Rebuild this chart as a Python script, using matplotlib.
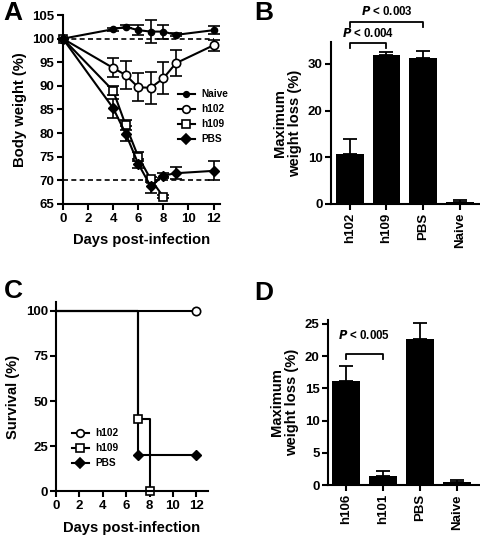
import matplotlib
matplotlib.use('Agg')
import matplotlib.pyplot as plt
from matplotlib.lines import Line2D

plt.rcParams['font.family'] = ['Liberation Sans', 'DejaVu Sans']
plt.rcParams['font.weight'] = 'bold'
plt.rcParams['axes.labelweight'] = 'bold'
plt.rcParams['axes.linewidth'] = 1.5
plt.rcParams['xtick.major.width'] = 1.5
plt.rcParams['ytick.major.width'] = 1.5
plt.rcParams['xtick.major.size'] = 4
plt.rcParams['ytick.major.size'] = 4
plt.rcParams['xtick.labelsize'] = 9.5
plt.rcParams['ytick.labelsize'] = 9.5
plt.rcParams['xtick.major.pad'] = 2.5
plt.rcParams['ytick.major.pad'] = 2

# panel A: body weight over time
naive_days = [0, 4, 5, 6, 7, 8, 9, 12]
naive_wt = [100, 102, 102.5, 101.8, 101.5, 101.5, 100.8, 101.8]
naive_err = [0, 0.3, 0.3, 1.0, 2.5, 1.5, 0.3, 0.8]

h102_days = [0, 4, 5, 6, 7, 8, 9, 12]
h102_wt = [100, 93.8, 92.3, 89.7, 89.6, 91.6, 94.8, 98.6]
h102_err = [0, 2.0, 3.0, 3.0, 3.4, 3.4, 2.8, 1.2]

h109_days = [0, 4, 5, 6, 7, 8]
h109_wt = [100, 89.0, 81.7, 75.0, 70.2, 66.5]
h109_err = [0, 1.0, 1.0, 1.0, 0.5, 0.3]

pbs_days = [0, 4, 5, 6, 7, 8, 9, 12]
pbs_wt = [100, 85.3, 79.9, 73.5, 68.7, 71.0, 71.5, 72.0]
pbs_err = [0, 2.0, 1.5, 1.0, 1.3, 0.5, 1.3, 2.0]

# panel B: maximum weight loss
b_groups = ['h102', 'h109', 'PBS', 'Naive']
b_vals = [10.7, 31.9, 31.3, 0.5]
b_err = [3.2, 0.6, 1.4, 0.4]

# panel C: survival
surv_h102_x = [0, 12]
surv_h102_y = [100, 100]
surv_h109_x = [0, 7, 8]
surv_h109_y = [100, 40, 0]
surv_pbs_x = [0, 7, 12]
surv_pbs_y = [100, 20, 20]

# panel D: maximum weight loss
d_groups = ['h106', 'h101', 'PBS', 'Naive']
d_vals = [16.2, 1.4, 22.6, 0.4]
d_err = [2.3, 0.7, 2.6, 0.3]

LAB = 10.6
LEG = 7.3
PTXT = 8.3

fig = plt.figure(figsize=(4.8, 5.38), dpi=100)


def clean(ax):
    ax.spines['top'].set_visible(False)
    ax.spines['right'].set_visible(False)


def handles(specs):
    return [Line2D([], [], color='k', lw=1.5, marker=m, ms=s, mfc=fc, mec='k', mew=1.2, label=l)
            for l, m, s, fc in specs]


# ---- A ----
axA = fig.add_axes([0.131, 0.621, 0.327, 0.351])
clean(axA)
axA.plot([0, 12], [100, 100], 'k--', lw=1.2, dashes=(3, 2))
axA.plot([0, 12], [70, 70], 'k--', lw=1.2, dashes=(3, 2))
ekw = dict(color='k', lw=1.5, capsize=4, elinewidth=1.2, capthick=1.2, clip_on=False)
axA.errorbar(naive_days, naive_wt, yerr=naive_err, marker='o', ms=4.5, mfc='k', mec='k', **ekw)
axA.errorbar(h102_days, h102_wt, yerr=h102_err, marker='o', ms=6, mfc='white', mec='k', mew=1.2, **ekw)
axA.errorbar(h109_days, h109_wt, yerr=h109_err, marker='s', ms=6, mfc='white', mec='k', mew=1.2, **ekw)
axA.errorbar(pbs_days, pbs_wt, yerr=pbs_err, marker='D', ms=5, mfc='k', mec='k', **ekw)
axA.set_xlim(0, 12.5)
axA.set_ylim(65, 105)
axA.set_xticks(range(0, 13, 2))
axA.set_yticks(range(65, 106, 5))
axA.set_xlabel('Days post-infection', fontsize=LAB, labelpad=6)
axA.set_ylabel('Body weight (%)', fontsize=LAB)
axA.legend(handles=handles([('Naive', 'o', 4, 'k'), ('h102', 'o', 5.5, 'white'),
                            ('h109', 's', 5.5, 'white'), ('PBS', 'D', 5, 'k')]),
           loc='upper left', bbox_to_anchor=(0.70, 0.635), frameon=False, fontsize=LEG,
           handlelength=1.7, labelspacing=0.5, handletextpad=0.6, borderpad=0)

# ---- B ----
axB = fig.add_axes([0.689, 0.621, 0.311, 0.301])
clean(axB)
bx = range(len(b_groups))
axB.bar(bx, b_vals, width=0.75, color='k')
axB.errorbar(bx, b_vals, yerr=[[0] * 4, b_err], fmt='none', ecolor='k', capsize=5, elinewidth=1.3, capthick=1.3)
axB.set_xlim(-0.52, 3.55)
axB.set_ylim(0, 34.7)
axB.set_yticks([0, 10, 20, 30])
axB.set_xticks(list(bx))
axB.set_xticklabels(b_groups, rotation=90)
axB.set_ylabel('Maximum\nweight loss (%)', fontsize=LAB, linespacing=1.1)
axB.plot([0, 0, 1, 1], [33.5, 34.5, 34.5, 33.5], 'k-', lw=1.3, clip_on=False)
axB.text(0.5, 35.2, r'$\bfit{P}$ < 0.004', ha='center', va='bottom', fontsize=PTXT)
axB.plot([0, 0, 2, 2], [38.0, 39.0, 39.0, 38.0], 'k-', lw=1.3, clip_on=False)
axB.text(1.0, 39.8, r'$\bfit{P}$ < 0.003', ha='center', va='bottom', fontsize=PTXT)

# ---- C ----
axC = fig.add_axes([0.117, 0.087, 0.316, 0.352])
clean(axC)
axC.step(surv_h102_x, surv_h102_y, where='post', color='k', lw=1.5, clip_on=False)
axC.step(surv_h109_x, surv_h109_y, where='post', color='k', lw=1.5, clip_on=False)
axC.step(surv_pbs_x, surv_pbs_y, where='post', color='k', lw=1.5, clip_on=False)
axC.plot(surv_h102_x[1:], surv_h102_y[1:], 'o', ms=6, mfc='white', mec='k', mew=1.2, clip_on=False)
axC.plot(surv_h109_x[1:], surv_h109_y[1:], 's', ms=6, mfc='white', mec='k', mew=1.2, clip_on=False)
axC.plot(surv_pbs_x[1:], surv_pbs_y[1:], 'D', ms=5, mfc='k', mec='k', clip_on=False)
axC.set_xlim(0, 13)
axC.set_ylim(0, 105)
axC.set_xticks(range(0, 13, 2))
axC.set_yticks([0, 25, 50, 75, 100])
axC.set_xlabel('Days post-infection', fontsize=LAB, labelpad=6)
axC.set_ylabel('Survival (%)', fontsize=LAB)
axC.legend(handles=handles([('h102', 'o', 5.5, 'white'), ('h109', 's', 5.5, 'white'),
                            ('PBS', 'D', 5, 'k')]),
           loc='upper left', bbox_to_anchor=(0.07, 0.36), frameon=False, fontsize=LEG,
           handlelength=1.7, labelspacing=0.5, handletextpad=0.6, borderpad=0)

# ---- D ----
axD = fig.add_axes([0.683, 0.0985, 0.317, 0.3065])
clean(axD)
dx = range(len(d_groups))
axD.bar(dx, d_vals, width=0.75, color='k')
axD.errorbar(dx, d_vals, yerr=[[0] * 4, d_err], fmt='none', ecolor='k', capsize=5, elinewidth=1.3, capthick=1.3)
axD.set_xlim(-0.49, 3.62)
axD.set_ylim(0, 25.6)
axD.set_yticks([0, 5, 10, 15, 20, 25])
axD.set_xticks(list(dx))
axD.set_xticklabels(d_groups, rotation=90)
axD.set_ylabel('Maximum\nweight loss (%)', fontsize=LAB, linespacing=1.1)
axD.plot([0, 0, 1, 1], [19.5, 20.3, 20.3, 19.5], 'k-', lw=1.3)
axD.text(0.5, 22.2, r'$\bfit{P}$ < 0.005', ha='center', va='bottom', fontsize=PTXT)

for lab, x, y in [('A', 0.008, 0.998), ('B', 0.53, 0.998), ('C', 0.008, 0.482), ('D', 0.53, 0.478)]:
    fig.text(x, y, lab, fontsize=19, fontweight='bold', va='top', ha='left')

fig.savefig('out.png', dpi=100)
